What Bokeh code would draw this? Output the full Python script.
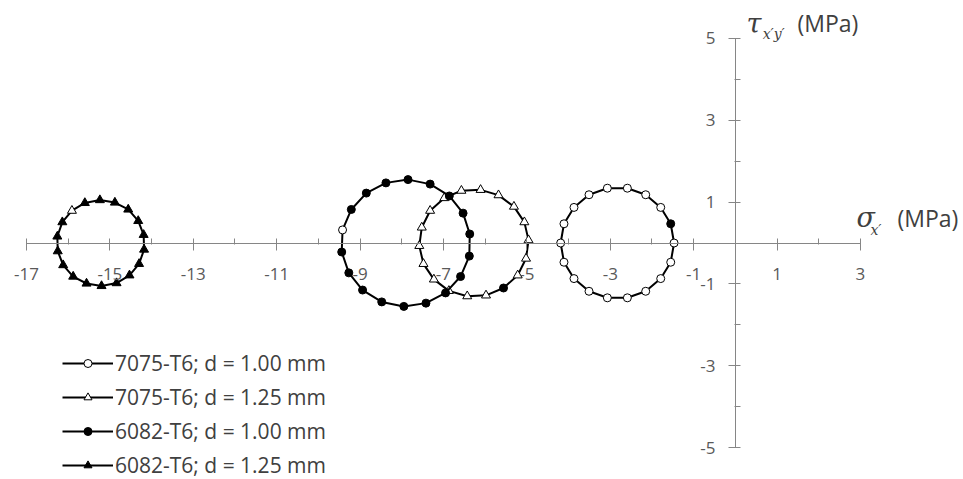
import numpy as np
from bokeh.plotting import figure
from bokeh.models import Range1d, FixedTicker, Label, Legend, LegendItem, PrintfTickFormatter
from bokeh.embed import file_html
from bokeh.resources import INLINE

# ---------------- data ----------------
series_names = ["7075-T6; d = 1.00 mm", "7075-T6; d = 1.25 mm",
                "6082-T6; d = 1.00 mm", "6082-T6; d = 1.25 mm"]

s1_x = [-1.47, -1.55, -1.79, -2.15, -2.59, -3.07, -3.51, -3.87, -4.11,
        -4.19, -4.11, -3.87, -3.51, -3.07, -2.59, -2.15, -1.79, -1.55]
s1_y = [0.00, 0.47, 0.87, 1.18, 1.34, 1.34, 1.18, 0.87, 0.47,
        0.00, -0.47, -0.87, -1.18, -1.34, -1.34, -1.18, -0.87, -0.47]

s2_x = [-4.96, -5.06, -5.31, -5.68, -6.11, -6.57, -6.98, -7.32, -7.52,
        -7.58, -7.48, -7.23, -6.87, -6.43, -5.98, -5.56, -5.22, -5.02]
s2_y = [0.07, 0.51, 0.89, 1.17, 1.30, 1.28, 1.10, 0.79, 0.38,
        -0.07, -0.51, -0.89, -1.17, -1.30, -1.28, -1.10, -0.79, -0.38]

s3_x = [-6.37, -6.53, -6.86, -7.32, -7.85, -8.38, -8.85, -9.21, -9.42,
        -9.44, -9.27, -8.94, -8.48, -7.95, -7.42, -6.95, -6.59, -6.38]
s3_y = [0.22, 0.73, 1.15, 1.44, 1.55, 1.47, 1.22, 0.82, 0.32,
        -0.22, -0.73, -1.15, -1.44, -1.55, -1.47, -1.22, -0.82, -0.32]

s4_x = [-14.19, -14.32, -14.56, -14.88, -15.24, -15.60, -15.91, -16.14, -16.26,
        -16.25, -16.12, -15.88, -15.56, -15.20, -14.84, -14.53, -14.30, -14.18]
s4_y = [0.20, 0.54, 0.82, 0.99, 1.05, 0.98, 0.79, 0.51, 0.16,
        -0.20, -0.54, -0.82, -0.99, -1.05, -0.98, -0.79, -0.51, -0.16]

# index of the point drawn with a different marker in each series
highlight_index = [1, 15, 8, 6]

x_ticks = [-17, -15, -13, -11, -9, -7, -5, -3, -1, 1, 3]
x_minor = [-16, -14, -12, -10, -8, -6, -4, -2, 0, 2]
y_ticks = [-5, -3, -1, 1, 3, 5]
y_minor = [-4, -2, 0, 2, 4]

# ---------------- styles ----------------
marker_main = ["circle", "triangle", "circle", "triangle"]
fill_main = ["white", "white", "black", "black"]
marker_hl = ["circle", "circle", "circle", "triangle"]
fill_hl = ["black", "black", "white", "white"]
size_main = [8, 9, 8, 9]
size_hl = [8, 8, 8, 9]

FONT = "Open Sans"
TXT = "#404040"
AX = "#868686"

p = figure(width=963, height=479,
           x_range=Range1d(-17.623, 5.471), y_range=Range1d(-5.782, 5.929),
           output_backend="svg", toolbar_location=None, min_border=0)
p.grid.visible = False
p.outline_line_color = None
p.background_fill_color = "white"
p.border_fill_color = "white"

for ax, ticks, minor, bounds in ((p.xaxis[0], x_ticks, x_minor, (-17, 3)),
                                 (p.yaxis[0], y_ticks, y_minor, (-5, 5))):
    ax.fixed_location = 0
    ax.ticker = FixedTicker(ticks=ticks, minor_ticks=minor)
    ax.formatter = PrintfTickFormatter(format="%d")
    ax.bounds = bounds
    ax.axis_line_color = AX
    ax.axis_line_width = 1
    ax.major_tick_line_color = AX
    ax.minor_tick_line_color = AX
    ax.major_tick_in = 5
    ax.major_tick_out = 7
    ax.minor_tick_in = 5
    ax.minor_tick_out = 1
    ax.major_label_text_font = FONT
    ax.major_label_text_font_size = "17px"
    ax.major_label_text_color = "#595959"
p.xaxis[0].major_label_standoff = 18
p.yaxis[0].major_label_standoff = 13

all_x = [s1_x, s2_x, s3_x, s4_x]
all_y = [s1_y, s2_y, s3_y, s4_y]
items = []
for i in range(4):
    xs = np.array(all_x[i])
    ys = np.array(all_y[i])
    hi = highlight_index[i]
    lr = p.line(np.append(xs, xs[0]), np.append(ys, ys[0]),
                line_color="black", line_width=2)
    mask = np.arange(len(xs)) != hi
    sr = p.scatter(xs[mask], ys[mask], marker=marker_main[i], size=size_main[i],
                   fill_color=fill_main[i], line_color="black", line_width=1)
    p.scatter([xs[hi]], [ys[hi]], marker=marker_hl[i], size=size_hl[i],
              fill_color=fill_hl[i], line_color="black", line_width=1)
    items.append(LegendItem(label=series_names[i], renderers=[lr, sr]))

legend = Legend(items=items, location=(62, 0), padding=0, margin=0, spacing=6,
                glyph_width=51, glyph_height=20, label_standoff=2,
                label_text_font=FONT, label_text_font_size="21px",
                label_text_color=TXT, background_fill_alpha=0,
                border_line_alpha=0)
p.add_layout(legend)

# axis titles
def lab(x, y, text, size, style="normal", font=FONT):
    p.add_layout(Label(x=x, y=y, text=text, text_font=font, text_font_size=size,
                       text_font_style=style, text_color=TXT,
                       text_baseline="middle", text_align="left"))

lab(2.905, 0.62, "σ", "27px", "italic", "DejaVu Serif")
lab(3.24, 0.33, "x′", "14px", "italic", "DejaVu Serif")
lab(3.888, 0.60, "(MPa)", "23px")
lab(0.27, 5.37, "τ", "27px", "italic", "DejaVu Serif")
lab(0.654, 5.12, "x′y′", "14px", "italic", "DejaVu Serif")
lab(1.49, 5.367, "(MPa)", "23px")

open("out.html", "w").write(file_html(p, INLINE))
